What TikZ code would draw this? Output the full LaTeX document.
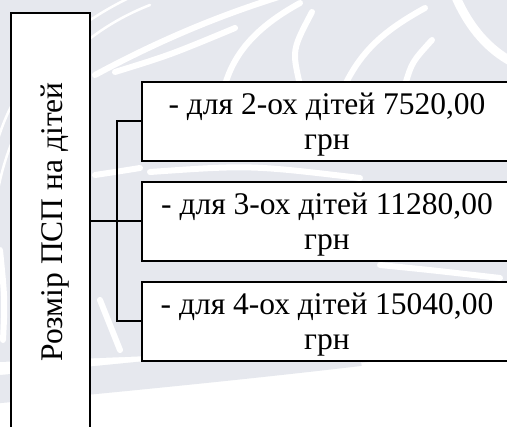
\documentclass[tikz,border=0pt]{standalone}
\usepackage{fontspec}
\setmainfont{Liberation Serif}
\definecolor{wmgray}{HTML}{E6E8EE}
\newcommand{\topstrut}{\rule{0pt}{27.5pt}}
\tikzset{
  frame/.style={draw=black, line width=2pt, fill=white},
  itembox/.style={frame, minimum width=370pt, minimum height=79pt,
    align=center, inner sep=0pt, font=\fontsize{31.5}{35}\selectfont},
  mainbox/.style={frame, minimum width=79pt, minimum height=427pt, inner sep=0pt},
  mainlabel/.style={rotate=90, anchor=base, inner sep=0pt, font=\fontsize{31.5}{35}\selectfont},
  wire/.style={draw=black, line width=2pt},
  branch/.style={draw=white, line width=6pt, line cap=round},
  thinbranch/.style={draw=white, line width=2.5pt, line cap=round},
}
\begin{document}
\begin{tikzpicture}[x=1pt, y=-1pt]
\useasboundingbox (0,0) rectangle (507,427);
\clip (0,0) rectangle (507,427);
\fill[white] (0,0) rectangle (507,427);

% faint emblem in the background
\fill[wmgray] (0,0) -- (507,0) -- (507,300)
  .. controls (430,335) and (300,352) .. (150,356) -- (0,362) -- cycle;
\draw[wmgray, line width=28pt] (-10,390) .. controls (120,378) and (250,365) .. (360,352);
\draw[wmgray!60, line width=22pt] (360,352) .. controls (400,347) .. (440,338);
\draw[branch] (95,75) .. controls (160,40) and (220,15) .. (285,-5);
\draw[branch] (115,72) .. controls (170,55) .. (235,28);
\draw[branch] (225,85) .. controls (235,50) and (260,25) .. (300,3);
\draw[branch] (300,85) .. controls (292,50) .. (312,12);
\draw[branch] (345,85) .. controls (362,50) and (385,30) .. (425,8);
\draw[branch] (405,85) .. controls (412,62) .. (432,40);
\draw[branch, line width=9pt] (455,-5) .. controls (470,30) and (490,50) .. (512,62);
\draw[thinbranch] (-5,150) .. controls (10,90) and (50,35) .. (135,-5);
\draw[thinbranch] (-5,210) .. controls (5,120) and (60,40) .. (150,5);
\draw[branch] (95,175) .. controls (115,172) .. (140,168);
\draw[branch] (150,172) .. controls (250,165) .. (360,178);
\draw[branch] (380,265) .. controls (430,270) .. (500,278);
\draw[branch] (100,300) -- (120,350);
\draw[branch] (0,250) .. controls (5,300) .. (3,340);

% diagram
\node[mainbox] (main) at (50.5,226.5) {};
\node[mainlabel] (mainlab) at (62,222) {Розмір ПСП на дітей};

\node[itembox] (b1) at (327,121.5) {\topstrut- для 2-ох дітей 7520,00\\грн};
\node[itembox] (b2) at (327,221.5) {\topstrut- для 3-ох дітей 11280,00\\грн};
\node[itembox] (b3) at (327,321.5) {\topstrut- для 4-ох дітей 15040,00\\грн};

\coordinate (bus) at (117,221.5);
\draw[wire] (b1.west) -| (bus) |- (b3.west);
\draw[wire] (b2.west -| main.east) -- (b2.west);
\end{tikzpicture}
\end{document}
